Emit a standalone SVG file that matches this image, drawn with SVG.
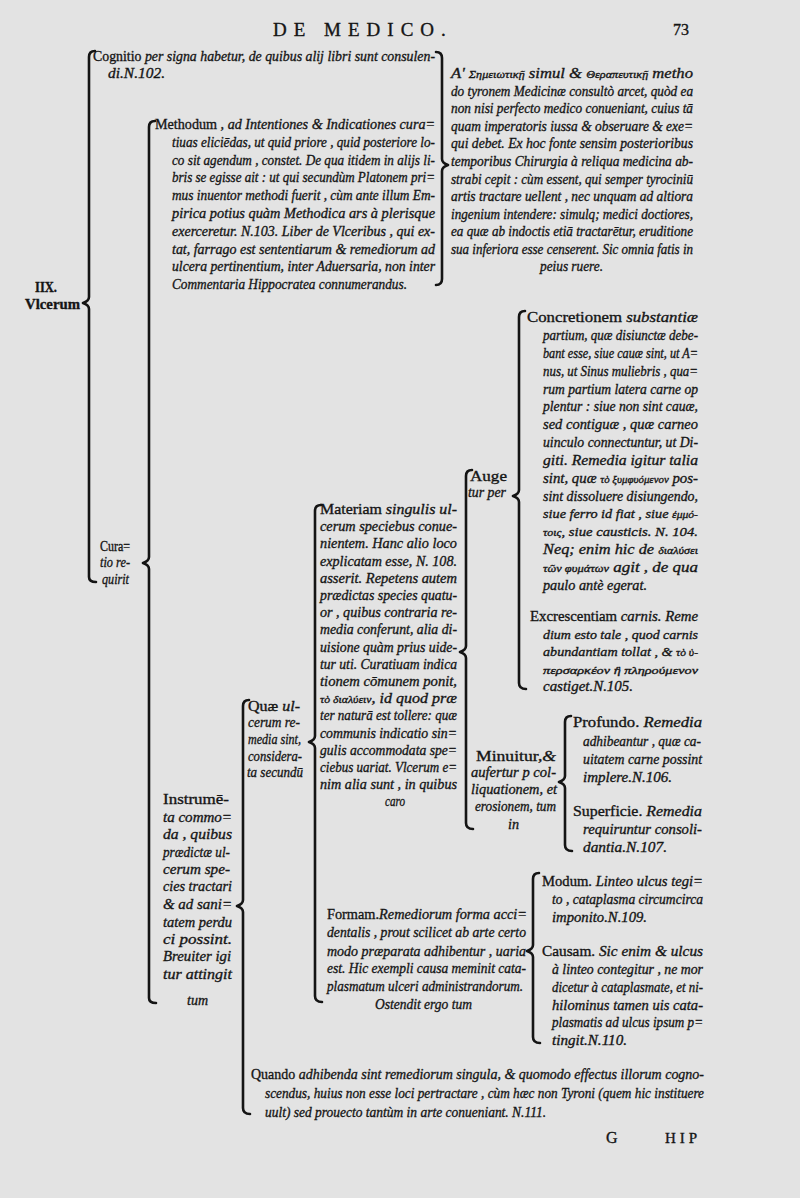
<svg xmlns="http://www.w3.org/2000/svg" width="800" height="1198" viewBox="0 0 800 1198">
<style>
text{font-family:"Liberation Serif","DejaVu Serif",serif;font-size:15px;fill:#151515;stroke:#151515;stroke-width:0.35;font-style:italic}
.r{font-style:normal}
.b{font-style:normal;font-weight:bold}
.g{font-size:11px}
.s{font-size:13.5px}
.hd{font-style:normal;font-size:19px;letter-spacing:7px}
.br{fill:none;stroke:#141414;stroke-width:2.6;stroke-linecap:round;stroke-linejoin:round}
</style>
<rect width="800" height="1198" fill="#e3e3e3"/>
<g id="header">
<text class="hd" x="273" y="36">DE MEDICO.</text>
<text class="r" x="673" y="35" style="font-size:16px">73</text>
</g>
<g id="connectors">
<path class="br" d="M95,51 Q89,51 89,57 L89,297 Q89,301 83,303 Q89,305 89,309 L89,577 Q89,582 96,582"/>
<path class="br" d="M436,52 Q442,52 442,58 L442,159 Q442,163 448,165 Q442,167 442,171 L442,279 Q442,285 436,285"/>
<path class="br" d="M155,121 Q149,121 149,127 L149,557 Q149,561 143,563 Q149,565 149,569 L149,998 Q149,1003 156,1003"/>
<path class="br" d="M249,700 Q243,700 243,706 L243,900 Q243,904 237,906 Q243,908 243,912 L243,1108 Q243,1114 250,1114"/>
<path class="br" d="M321,505 Q315,505 315,511 L315,736 Q315,740 309,742 Q315,744 315,748 L315,996 Q315,1002 322,1002"/>
<path class="br" d="M472,470 Q466,470 466,476 L466,646 Q466,650 460,652 Q466,654 466,658 L466,823 Q466,829 473,829"/>
<path class="br" d="M525,311 Q519,311 519,317 L519,490 Q519,494 513,496 Q519,498 519,502 L519,683 Q519,689 526,689"/>
<path class="br" d="M571,716 Q565,716 565,722 L565,776 Q565,780 559,782 Q565,784 565,788 L565,845 Q565,851 572,851"/>
<path class="br" d="M539,873 Q533,873 533,879 L533,945 Q533,949 527,951 Q533,953 533,957 L533,1037 Q533,1043 540,1043"/>
</g>
<g id="ulcerum">
<text class="b" x="35" y="292" textLength="22" lengthAdjust="spacingAndGlyphs">IIX.</text>
<text class="b" x="25" y="309" textLength="55" lengthAdjust="spacingAndGlyphs">Vlcerum</text>
</g>
<g id="cognitio">
<text x="93" y="61" textLength="342" lengthAdjust="spacingAndGlyphs"><tspan class="r">Cognitio </tspan>per signa habetur, de quibus alij libri sunt consulen-</text>
<text x="108" y="78" textLength="57" lengthAdjust="spacingAndGlyphs">di.N.102.</text>
</g>
<g id="methodum">
<text x="155" y="129" textLength="280" lengthAdjust="spacingAndGlyphs"><tspan class="r">Methodum</tspan> , ad Intentiones &amp; Indicationes cura=</text>
<text x="172" y="147" textLength="263" lengthAdjust="spacingAndGlyphs">tiuas eliciēdas, ut quid priore , quid posteriore lo-</text>
<text x="172" y="165" textLength="263" lengthAdjust="spacingAndGlyphs">co sit agendum , constet. De qua itidem in alijs li-</text>
<text x="172" y="182" textLength="263" lengthAdjust="spacingAndGlyphs">bris se egisse ait : ut qui secundùm Platonem pri=</text>
<text x="172" y="200" textLength="263" lengthAdjust="spacingAndGlyphs">mus inuentor methodi fuerit , cùm ante illum Em-</text>
<text x="172" y="218" textLength="263" lengthAdjust="spacingAndGlyphs">pirica potius quàm Methodica ars à plerisque</text>
<text x="172" y="236" textLength="263" lengthAdjust="spacingAndGlyphs">exerceretur. N.103. Liber de Vlceribus , qui ex-</text>
<text x="172" y="254" textLength="263" lengthAdjust="spacingAndGlyphs">tat, farrago est sententiarum &amp; remediorum ad</text>
<text x="172" y="271" textLength="263" lengthAdjust="spacingAndGlyphs">ulcera pertinentium, inter Aduersaria, non inter</text>
<text x="172" y="289" textLength="235" lengthAdjust="spacingAndGlyphs">Commentaria Hippocratea connumerandus.</text>
</g>
<g id="semiotice">
<text x="451" y="78" textLength="242" lengthAdjust="spacingAndGlyphs">A' <tspan class="g">Σημειωτικῇ</tspan> simul &amp; <tspan class="g">Θεραπευτικῇ</tspan> metho</text>
<text x="451" y="96" textLength="242" lengthAdjust="spacingAndGlyphs">do tyronem Medicinæ consultò arcet, quòd ea</text>
<text x="451" y="113" textLength="242" lengthAdjust="spacingAndGlyphs">non nisi perfecto medico conueniant, cuius tā</text>
<text x="451" y="131" textLength="242" lengthAdjust="spacingAndGlyphs">quam imperatoris iussa &amp; obseruare &amp; exe=</text>
<text x="451" y="148" textLength="242" lengthAdjust="spacingAndGlyphs">qui debet. Ex hoc fonte sensim posterioribus</text>
<text x="451" y="166" textLength="242" lengthAdjust="spacingAndGlyphs">temporibus Chirurgia à reliqua medicina ab-</text>
<text x="451" y="184" textLength="242" lengthAdjust="spacingAndGlyphs">strabi cepit : cùm essent, qui semper tyrociniū</text>
<text x="451" y="201" textLength="242" lengthAdjust="spacingAndGlyphs">artis tractare uellent , nec unquam ad altiora</text>
<text x="451" y="219" textLength="242" lengthAdjust="spacingAndGlyphs">ingenium intendere: simulq; medici doctiores,</text>
<text x="451" y="236" textLength="242" lengthAdjust="spacingAndGlyphs">ea quæ ab indoctis etiā tractarētur, eruditione</text>
<text x="451" y="254" textLength="242" lengthAdjust="spacingAndGlyphs">sua inferiora esse censerent. Sic omnia fatis in</text>
<text x="540" y="271" textLength="63" lengthAdjust="spacingAndGlyphs">peius ruere.</text>
</g>
<g id="curatio">
<text class="r" x="100" y="551" textLength="30" lengthAdjust="spacingAndGlyphs">Cura=</text>
<text x="100" y="567" textLength="30" lengthAdjust="spacingAndGlyphs">tio re-</text>
<text x="102" y="584" textLength="27" lengthAdjust="spacingAndGlyphs">quirit</text>
</g>
<g id="instrumenta">
<text class="r" x="163" y="804" textLength="66" lengthAdjust="spacingAndGlyphs">Instrumē-</text>
<text x="163" y="822" textLength="69" lengthAdjust="spacingAndGlyphs">ta commo=</text>
<text x="163" y="839" textLength="69" lengthAdjust="spacingAndGlyphs">da , quibus</text>
<text x="163" y="857" textLength="67" lengthAdjust="spacingAndGlyphs">prædictæ ul-</text>
<text x="163" y="874" textLength="67" lengthAdjust="spacingAndGlyphs">cerum spe-</text>
<text x="163" y="891" textLength="69" lengthAdjust="spacingAndGlyphs">cies tractari</text>
<text x="163" y="909" textLength="69" lengthAdjust="spacingAndGlyphs">&amp; ad sani=</text>
<text x="163" y="927" textLength="69" lengthAdjust="spacingAndGlyphs">tatem perdu</text>
<text x="163" y="944" textLength="69" lengthAdjust="spacingAndGlyphs">ci possint.</text>
<text x="163" y="961" textLength="68" lengthAdjust="spacingAndGlyphs">Breuiter igi</text>
<text x="163" y="979" textLength="69" lengthAdjust="spacingAndGlyphs">tur attingit</text>
<text x="187" y="1005" textLength="21" lengthAdjust="spacingAndGlyphs">tum</text>
</g>
<g id="quae-ulcerum">
<text x="248" y="711" textLength="52" lengthAdjust="spacingAndGlyphs"><tspan class="r">Quæ</tspan> ul-</text>
<text x="248" y="727" textLength="52" lengthAdjust="spacingAndGlyphs">cerum re-</text>
<text x="248" y="744" textLength="53" lengthAdjust="spacingAndGlyphs">media sint,</text>
<text x="248" y="761" textLength="54" lengthAdjust="spacingAndGlyphs">considera-</text>
<text x="247" y="777" textLength="56" lengthAdjust="spacingAndGlyphs">ta secundū</text>
</g>
<g id="materiam">
<text x="320" y="514" textLength="137" lengthAdjust="spacingAndGlyphs"><tspan class="r">Materiam</tspan> singulis ul-</text>
<text x="320" y="531" textLength="137" lengthAdjust="spacingAndGlyphs">cerum speciebus conue-</text>
<text x="320" y="548" textLength="137" lengthAdjust="spacingAndGlyphs">nientem.  Hanc alio loco</text>
<text x="320" y="566" textLength="137" lengthAdjust="spacingAndGlyphs">explicatam esse, N. 108.</text>
<text x="320" y="583" textLength="137" lengthAdjust="spacingAndGlyphs">asserit.  Repetens autem</text>
<text x="320" y="600" textLength="137" lengthAdjust="spacingAndGlyphs">prædictas species quatu-</text>
<text x="320" y="617" textLength="137" lengthAdjust="spacingAndGlyphs">or , quibus contraria re-</text>
<text x="320" y="634" textLength="137" lengthAdjust="spacingAndGlyphs">media conferunt, alia di-</text>
<text x="320" y="652" textLength="137" lengthAdjust="spacingAndGlyphs">uisione quàm prius uide-</text>
<text x="320" y="669" textLength="137" lengthAdjust="spacingAndGlyphs">tur uti. Curatiuam indica</text>
<text x="320" y="686" textLength="137" lengthAdjust="spacingAndGlyphs">tionem  cōmunem  ponit,</text>
<text x="320" y="703" textLength="137" lengthAdjust="spacingAndGlyphs"><tspan class="g">τὸ διαλύειν</tspan>, id quod præ</text>
<text x="320" y="720" textLength="137" lengthAdjust="spacingAndGlyphs">ter naturā est tollere: quæ</text>
<text x="320" y="738" textLength="137" lengthAdjust="spacingAndGlyphs">communis indicatio sin=</text>
<text x="320" y="755" textLength="137" lengthAdjust="spacingAndGlyphs">gulis accommodata spe=</text>
<text x="320" y="772" textLength="137" lengthAdjust="spacingAndGlyphs">ciebus uariat. Vlcerum e=</text>
<text x="320" y="789" textLength="137" lengthAdjust="spacingAndGlyphs">nim alia sunt , in quibus</text>
<text x="385" y="806" textLength="20" lengthAdjust="spacingAndGlyphs">caro</text>
</g>
<g id="formam">
<text x="327" y="919" textLength="200" lengthAdjust="spacingAndGlyphs"><tspan class="r">Formam.</tspan>Remediorum forma acci=</text>
<text x="327" y="937" textLength="199" lengthAdjust="spacingAndGlyphs">dentalis , prout scilicet ab arte certo</text>
<text x="327" y="956" textLength="199" lengthAdjust="spacingAndGlyphs">modo præparata adhibentur , uaria</text>
<text x="327" y="973" textLength="199" lengthAdjust="spacingAndGlyphs">est. Hic exempli causa meminit cata-</text>
<text x="327" y="991" textLength="196" lengthAdjust="spacingAndGlyphs">plasmatum ulceri administrandorum.</text>
<text x="375" y="1009" textLength="97" lengthAdjust="spacingAndGlyphs">Ostendit ergo tum</text>
</g>
<g id="augetur">
<text class="r" x="470" y="481" textLength="37" lengthAdjust="spacingAndGlyphs">Auge</text>
<text x="468" y="497" textLength="38" lengthAdjust="spacingAndGlyphs">tur per</text>
</g>
<g id="minuitur">
<text x="476" y="761" textLength="80" lengthAdjust="spacingAndGlyphs"><tspan class="r">Minuitur,</tspan>&amp;</text>
<text x="471" y="777" textLength="85" lengthAdjust="spacingAndGlyphs">aufertur p col-</text>
<text x="471" y="794" textLength="86" lengthAdjust="spacingAndGlyphs">liquationem, et</text>
<text x="475" y="811" textLength="81" lengthAdjust="spacingAndGlyphs">erosionem, tum</text>
<text x="508" y="829" textLength="11" lengthAdjust="spacingAndGlyphs">in</text>
</g>
<g id="concretionem">
<text x="527" y="322" textLength="171" lengthAdjust="spacingAndGlyphs"><tspan class="r">Concretionem</tspan>   substantiæ</text>
<text x="543" y="340" textLength="155" lengthAdjust="spacingAndGlyphs">partium, quæ disiunctæ debe-</text>
<text x="543" y="358" textLength="155" lengthAdjust="spacingAndGlyphs">bant esse, siue cauæ sint, ut A=</text>
<text x="543" y="376" textLength="155" lengthAdjust="spacingAndGlyphs">nus, ut Sinus muliebris , qua=</text>
<text x="543" y="394" textLength="155" lengthAdjust="spacingAndGlyphs">rum partium latera carne op</text>
<text x="543" y="411" textLength="155" lengthAdjust="spacingAndGlyphs">plentur : siue non sint cauæ,</text>
<text x="543" y="429" textLength="155" lengthAdjust="spacingAndGlyphs">sed contiguæ , quæ carneo</text>
<text x="543" y="447" textLength="155" lengthAdjust="spacingAndGlyphs">uinculo connectuntur, ut Di-</text>
<text x="543" y="465" textLength="155" lengthAdjust="spacingAndGlyphs">giti.   Remedia igitur talia</text>
<text x="543" y="483" textLength="155" lengthAdjust="spacingAndGlyphs">sint, quæ <tspan class="g">τὸ ξυμφυόμενον</tspan> pos-</text>
<text x="543" y="501" textLength="155" lengthAdjust="spacingAndGlyphs">sint dissoluere disiungendo,</text>
<text class="s" x="543" y="518" textLength="155" lengthAdjust="spacingAndGlyphs">siue ferro id fiat , siue <tspan class="g">ἐμμό-</tspan></text>
<text class="s" x="543" y="536" textLength="155" lengthAdjust="spacingAndGlyphs"><tspan class="g">τοις</tspan>, siue causticis. N. 104.</text>
<text x="543" y="554" textLength="155" lengthAdjust="spacingAndGlyphs">Neq; enim hic de <tspan class="g">διαλύσει</tspan></text>
<text x="543" y="572" textLength="155" lengthAdjust="spacingAndGlyphs"><tspan class="g">τῶν φυμάτων</tspan> agit , de qua</text>
<text x="543" y="590" textLength="104" lengthAdjust="spacingAndGlyphs">paulo antè egerat.</text>
</g>
<g id="excrescentiam">
<text x="530" y="621" textLength="168" lengthAdjust="spacingAndGlyphs"><tspan class="r">Excrescentiam</tspan> carnis. Reme</text>
<text class="s" x="543" y="639" textLength="155" lengthAdjust="spacingAndGlyphs">dium esto tale , quod carnis</text>
<text class="s" x="543" y="656" textLength="155" lengthAdjust="spacingAndGlyphs">abundantiam tollat , &amp; <tspan class="g">τὸ ὑ-</tspan></text>
<text class="g" x="543" y="674" textLength="155" lengthAdjust="spacingAndGlyphs">περσαρκέον ἢ πληρούμενον</text>
<text x="543" y="691" textLength="90" lengthAdjust="spacingAndGlyphs">castiget.N.105.</text>
</g>
<g id="profundo">
<text x="573" y="727" textLength="129" lengthAdjust="spacingAndGlyphs"><tspan class="r">Profundo.</tspan>  Remedia</text>
<text x="583" y="746" textLength="118" lengthAdjust="spacingAndGlyphs">adhibeantur , quæ ca-</text>
<text x="583" y="764" textLength="119" lengthAdjust="spacingAndGlyphs">uitatem carne possint</text>
<text x="583" y="782" textLength="89" lengthAdjust="spacingAndGlyphs">implere.N.106.</text>
</g>
<g id="superficie">
<text x="573" y="816" textLength="129" lengthAdjust="spacingAndGlyphs"><tspan class="r">Superficie.</tspan>  Remedia</text>
<text x="583" y="834" textLength="119" lengthAdjust="spacingAndGlyphs">requiruntur  consoli-</text>
<text x="583" y="852" textLength="84" lengthAdjust="spacingAndGlyphs">dantia.N.107.</text>
</g>
<g id="modum">
<text x="542" y="886" textLength="161" lengthAdjust="spacingAndGlyphs"><tspan class="r">Modum.</tspan> Linteo ulcus tegi=</text>
<text x="552" y="904" textLength="151" lengthAdjust="spacingAndGlyphs">to , cataplasma circumcirca</text>
<text x="552" y="922" textLength="95" lengthAdjust="spacingAndGlyphs">imponito.N.109.</text>
</g>
<g id="causam">
<text x="542" y="956" textLength="161" lengthAdjust="spacingAndGlyphs"><tspan class="r">Causam.</tspan>  Sic enim &amp; ulcus</text>
<text x="552" y="974" textLength="151" lengthAdjust="spacingAndGlyphs">à linteo contegitur , ne mor</text>
<text x="552" y="992" textLength="151" lengthAdjust="spacingAndGlyphs">dicetur à cataplasmate, et ni-</text>
<text x="552" y="1010" textLength="151" lengthAdjust="spacingAndGlyphs">hilominus  tamen uis cata-</text>
<text x="552" y="1027" textLength="151" lengthAdjust="spacingAndGlyphs">plasmatis ad ulcus ipsum p=</text>
<text x="552" y="1045" textLength="75" lengthAdjust="spacingAndGlyphs">tingit.N.110.</text>
</g>
<g id="quando">
<text x="251" y="1079" textLength="453" lengthAdjust="spacingAndGlyphs"><tspan class="r">Quando</tspan> adhibenda sint remediorum singula, &amp; quomodo  effectus illorum cogno-</text>
<text x="265" y="1098" textLength="439" lengthAdjust="spacingAndGlyphs">scendus, huius non esse loci pertractare , cùm hæc non Tyroni (quem hic instituere</text>
<text x="265" y="1117" textLength="281" lengthAdjust="spacingAndGlyphs">uult) sed prouecto tantùm in arte conueniant. N.111.</text>
</g>
<g id="footer">
<text class="r" x="606" y="1143" style="font-size:16px">G</text>
<text class="r" x="665" y="1143" style="letter-spacing:4px">HIP</text>
</g>
</svg>
